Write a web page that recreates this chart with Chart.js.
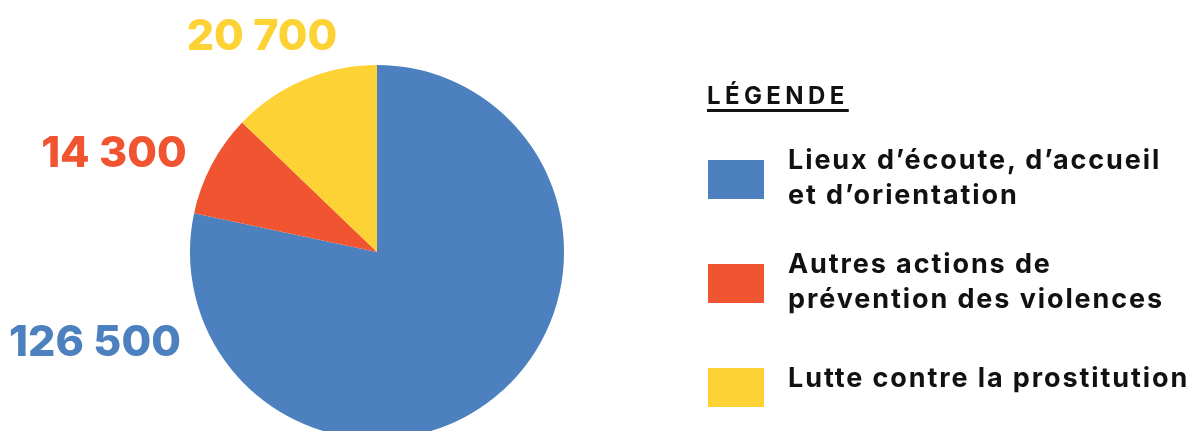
<!DOCTYPE html>
<html lang="fr">
<head>
<meta charset="utf-8">
<script src="https://cdn.jsdelivr.net/npm/chart.js@4.4.1/dist/chart.umd.min.js"></script>
<style>
  html, body { margin: 0; padding: 0; background: #fff; }
  body { width: 1200px; height: 431px; overflow: hidden; position: relative; font-family: Inter, sans-serif; }
  #wrap { position: absolute; left: 0; top: 0; width: 1200px; height: 506px; }
  #legend { position: absolute; left: 707px; top: 0; width: 493px; height: 431px; color: #111; font-weight: 700; }
  #legend .title { position: absolute; left: 0; top: 78px; font-size: 24px; line-height: 35px; letter-spacing: 4.4px;
    text-decoration: underline; text-decoration-thickness: 3px; text-underline-offset: 5px; white-space: nowrap; }
  #legend .box { position: absolute; left: 1px; width: 56px; height: 39px; }
  #legend .txt { position: absolute; left: 81px; font-size: 27px; line-height: 35px; letter-spacing: 1.9px; white-space: nowrap; }
</style>
</head>
<body>
<div id="wrap"><canvas id="pie" width="1200" height="506"></canvas></div>
<div id="legend"></div>
<script>
const categories = [
  ['Lieux d’écoute, d’accueil', 'et d’orientation'],
  ['Autres actions de', 'prévention des violences'],
  ['Lutte contre la prostitution']
];
const values = [126500, 14300, 20700];
const valueLabels = ['126 500', '14 300', '20 700'];
const colors = ['#4C80BE', '#F15431', '#FDD235'];

// where each value label sits (canvas px)
const labelPos = [
  { x: 95, y: 356 },
  { x: 114, y: 167 },
  { x: 262, y: 50 }
];

const valueLabelsPlugin = {
  id: 'valueLabels',
  afterDraw(chart) {
    const ctx = chart.ctx;
    ctx.save();
    ctx.font = '800 43px Inter';
    ctx.textAlign = 'center';
    ctx.textBaseline = 'alphabetic';
    valueLabels.forEach((t, i) => {
      ctx.fillStyle = colors[i];
      ctx.fillText(t, labelPos[i].x, labelPos[i].y);
    });
    ctx.restore();
  }
};

new Chart(document.getElementById('pie').getContext('2d'), {
  type: 'pie',
  data: {
    labels: categories.map(c => c.join(' ')),
    datasets: [{
      data: values,
      backgroundColor: colors,
      borderWidth: 0
    }]
  },
  options: {
    responsive: false,
    animation: false,
    layout: { padding: { left: 190, right: 636, top: 65, bottom: 67 } },
    plugins: {
      legend: { display: false },
      tooltip: { enabled: false }
    }
  },
  plugins: [valueLabelsPlugin]
});

// html legend
const legend = document.getElementById('legend');
const title = document.createElement('div');
title.className = 'title';
title.textContent = 'LÉGENDE';
legend.appendChild(title);
const itemTops = [142, 246, 360];
const boxTops = [160, 264, 368];
categories.forEach((lines, i) => {
  const box = document.createElement('div');
  box.className = 'box';
  box.style.top = boxTops[i] + 'px';
  box.style.background = colors[i];
  legend.appendChild(box);
  const txt = document.createElement('div');
  txt.className = 'txt';
  txt.style.top = itemTops[i] + 'px';
  txt.innerHTML = lines.join('<br>');
  legend.appendChild(txt);
});
</script>
</body>
</html>
